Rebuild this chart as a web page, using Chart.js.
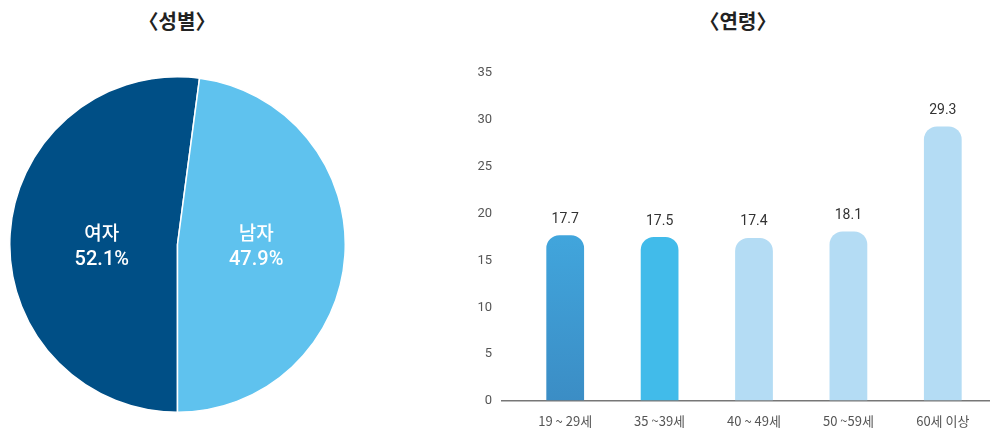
<!DOCTYPE html>
<html lang="ko">
<head>
<meta charset="utf-8">
<script src="https://cdn.jsdelivr.net/npm/chart.js@4"></script>
<style>
  html, body { margin: 0; padding: 0; background: #fff; }
  body { width: 1008px; height: 432px; position: relative; overflow: hidden;
         font-family: "Noto Sans CJK KR", Roboto, sans-serif; }
  .title { position: absolute; top: 6px; font-size: 20px; font-weight: 700; color: #222;
           text-align: center; width: 200px; }
  #pieBox { position: absolute; left: 9px; top: 76px; width: 337px; height: 337px; }
  #barBox { position: absolute; left: 440px; top: 0; width: 568px; height: 432px; }
</style>
</head>
<body>
<div class="title" style="left:77px">〈성별〉</div>
<div class="title" style="left:638px">〈연령〉</div>
<div id="pieBox"><canvas id="pie"></canvas></div>
<div id="barBox"><canvas id="bar"></canvas></div>
<script>
// 성별
const genderLabels = ["여자", "남자"];
const genderValues = [52.1, 47.9];
const genderColors = ["#004f86", "#5fc2ee"];

// 연령
const ageLabels = ["19 ~ 29세", "35 ~39세", "40 ~ 49세", "50 ~59세", "60세 이상"];
const ageValues = [17.7, 17.5, 17.4, 18.1, 29.3];
const yTicks = [0, 5, 10, 15, 20, 25, 30, 35];

const koFont = '"Noto Sans CJK KR", Roboto, sans-serif';

// slice labels: name + percent, white, level with the pie centre
const pieLabels = {
  id: "pieLabels",
  afterDatasetsDraw(chart) {
    const ctx = chart.ctx;
    const meta = chart.getDatasetMeta(0);
    ctx.save();
    ctx.fillStyle = "#fff";
    ctx.textAlign = "center";
    ctx.textBaseline = "middle";
    meta.data.forEach((arc, i) => {
      const p = arc.tooltipPosition();
      const x = p.x + (i === 0 ? 8 : -5);
      ctx.font = "500 19px " + koFont;
      ctx.fillText(genderLabels[i], x, arc.y - 12);
      ctx.font = "500 20px Roboto, sans-serif";
      ctx.fillText(genderValues[i].toFixed(1) + "%", x, arc.y + 15);
    });
    ctx.restore();
  }
};

new Chart(document.getElementById("pie"), {
  type: "pie",
  data: {
    labels: genderLabels,
    datasets: [{
      data: genderValues,
      backgroundColor: genderColors,
      borderColor: "#fff",
      borderWidth: 1.5
    }]
  },
  options: {
    responsive: true,
    maintainAspectRatio: false,
    animation: false,
    rotation: 180,
    layout: { padding: 0 },
    plugins: { legend: { display: false }, tooltip: { enabled: false } }
  },
  plugins: [pieLabels]
});

// value labels over the bars
const barValues = {
  id: "barValues",
  afterDatasetsDraw(chart) {
    const ctx = chart.ctx;
    const meta = chart.getDatasetMeta(0);
    ctx.save();
    ctx.fillStyle = "#333";
    ctx.font = "14px Roboto, sans-serif";
    ctx.textAlign = "center";
    ctx.textBaseline = "bottom";
    meta.data.forEach((bar, i) => {
      ctx.fillText(ageValues[i].toFixed(1), bar.x, bar.y - 9);
    });
    ctx.restore();
  }
};

function barColor(c) {
  const i = c.dataIndex;
  if (i === 0) {
    const area = c.chart.chartArea;
    if (!area) return "#3e9fd6";
    const g = c.chart.ctx.createLinearGradient(0, area.top, 0, area.bottom);
    g.addColorStop(0, "#44b0e4");
    g.addColorStop(0.5, "#41a5dc");
    g.addColorStop(1, "#3b8dc5");
    return g;
  }
  if (i === 1) return "#41bbea";
  return "#b4dcf4";
}

new Chart(document.getElementById("bar"), {
  type: "bar",
  data: {
    labels: ageLabels,
    datasets: [{
      data: ageValues,
      backgroundColor: barColor,
      borderRadius: { topLeft: 13, topRight: 13 },
      borderSkipped: "bottom",
      categoryPercentage: 0.8,
      barPercentage: 0.5
    }]
  },
  options: {
    responsive: true,
    maintainAspectRatio: false,
    animation: false,
    layout: { padding: { top: 73, right: 18, bottom: 0, left: 0 } },
    plugins: { legend: { display: false }, tooltip: { enabled: false } },
    scales: {
      x: {
        grid: { display: false },
        border: { display: false },
        ticks: { color: "#555", font: { size: 13, family: koFont }, padding: 4 },
        afterFit(s) { s.height = 31; }
      },
      y: {
        min: 0,
        max: 35,
        afterBuildTicks(s) { s.ticks = yTicks.map(v => ({ value: v })); },
        grid: {
          color: c => (c.tick && c.tick.value === 0 ? "#777" : "rgba(0,0,0,0)"),
          lineWidth: 1.5,
          tickLength: 17
        },
        border: { display: false },
        ticks: { color: "#555", font: { size: 13, family: "Roboto, sans-serif" }, padding: 9 },
        afterFit(s) { s.width = 78; }
      }
    }
  },
  plugins: [barValues]
});
</script>
</body>
</html>
